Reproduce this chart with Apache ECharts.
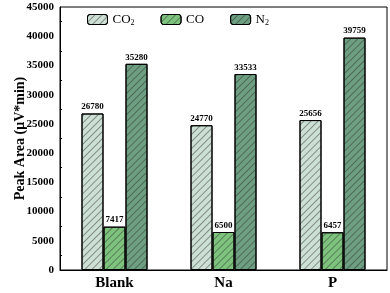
<!DOCTYPE html>
<html><head><meta charset="utf-8">
<script src="https://cdn.jsdelivr.net/npm/echarts@6/dist/echarts.min.js"></script>
<style>html,body{margin:0;padding:0;background:#fff}#c{width:390px;height:293px}</style>
</head><body><div id="c"></div>
<script>
const categories = ['Blank', 'Na', 'P'];
const seriesNames = ['CO2', 'CO', 'N2'];
const co2 = [26780, 24770, 25656];
const co = [7417, 6500, 6457];
const n2 = [35280, 33533, 39759];
const yTicks = [0, 5000, 10000, 15000, 20000, 25000, 30000, 35000, 40000, 45000];

const colors = ['#cde0d5', '#7dc27d', '#6e9f82'];
const font = 'Liberation Serif';
const decal = {
  symbol: 'rect', symbolSize: 1, dashArrayX: [1, 0], dashArrayY: [1, 4],
  rotation: -Math.PI / 4, color: 'rgba(40,40,40,0.45)'
};
const values = [co2, co, n2];
const chart = echarts.init(document.getElementById('c'));
chart.setOption({
  animation: false,
  textStyle: { fontFamily: font },
  grid: { left: 60, right: 3, top: 7, bottom: 23, containLabel: false, outerBoundsMode: 'none',
    show: true, borderColor: '#000', borderWidth: 1, backgroundColor: 'transparent' },
  legend: {
    left: 87, top: 13, padding: 0, itemWidth: 20, itemHeight: 10, itemGap: 26,
    itemStyle: { borderColor: '#000', borderWidth: 1 },
    textStyle: {
      fontFamily: font, fontSize: 13, color: '#000',
      rich: { s: { fontFamily: font, fontSize: 8, color: '#000', padding: [7, 0, 0, 0] } }
    },
    formatter: n => n === 'CO2' ? 'CO{s|2}' : (n === 'N2' ? 'N{s|2}' : n),
    data: seriesNames
  },
  xAxis: {
    type: 'category', data: categories,
    axisLine: { lineStyle: { color: '#000', width: 1 } },
    axisTick: { inside: true, length: 4, lineStyle: { color: '#000' } },
    axisLabel: { fontFamily: font, fontWeight: 'bold', fontSize: 15, color: '#000', margin: 6 }
  },
  yAxis: {
    type: 'value', min: yTicks[0], max: yTicks[yTicks.length - 1], interval: 5000,
    name: 'Peak Area (μV*min)', nameLocation: 'middle', nameGap: 33, nameMoveOverlap: false,
    nameTextStyle: { fontFamily: font, fontWeight: 'bold', fontSize: 14, color: '#000' },
    axisLine: { show: true, lineStyle: { color: '#000', width: 1 } },
    axisTick: { inside: true, length: 4, lineStyle: { color: '#000' } },
    minorTick: { show: true, splitNumber: 2, length: 2, lineStyle: { color: '#000' } },
    splitLine: { show: false },
    axisLabel: { fontFamily: font, fontWeight: 'bold', fontSize: 11, color: '#000', margin: 6,
      formatter: v => String(v) }
  },
  series: seriesNames.map((n, i) => ({
    name: n, type: 'bar', data: values[i], barWidth: 22, barGap: '0%',
    itemStyle: { color: colors[i], borderColor: '#000', borderWidth: 1, decal: decal },
    label: { show: true, position: 'top', distance: 2, fontFamily: font, fontWeight: 'bold', fontSize: 9, color: '#000' }
  }))
});
</script></body></html>
